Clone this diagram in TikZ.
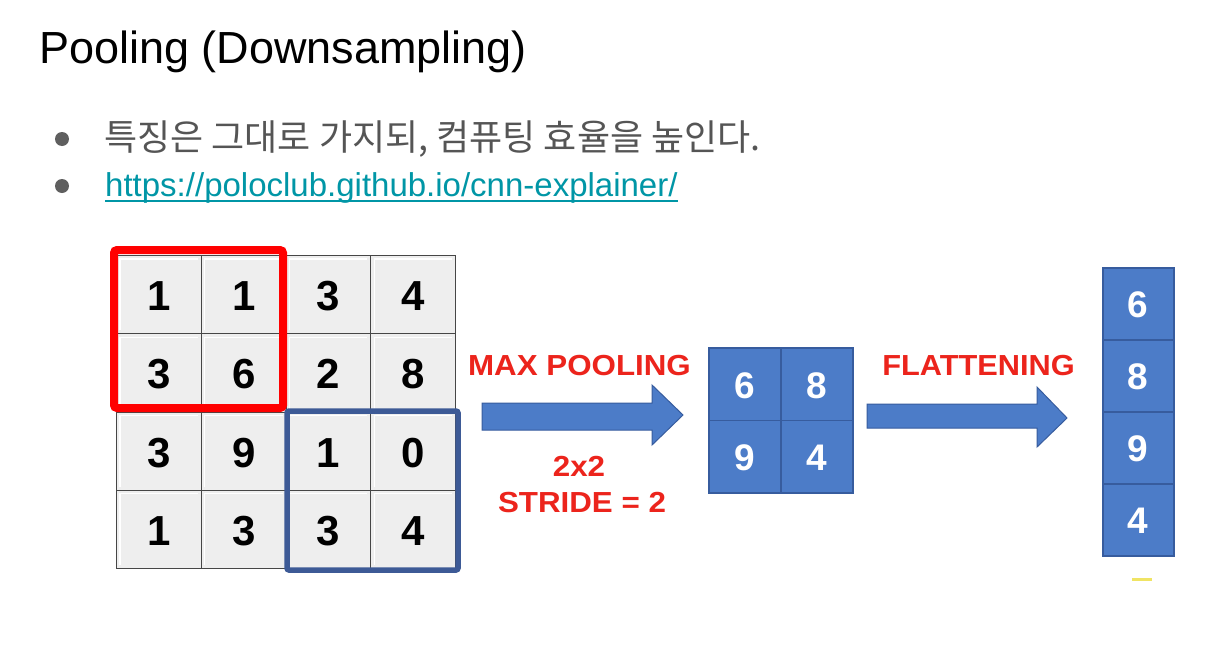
\documentclass[tikz,border=0pt]{standalone}
\usepackage{fontspec}
\setmainfont{Liberation Sans}
\newfontfamily\kr{Noto Sans CJK KR}
\definecolor{redc}{RGB}{236,36,28}
\definecolor{boxred}{RGB}{255,0,0}
\definecolor{bluec}{RGB}{76,124,200}
\definecolor{blueb}{RGB}{55,92,158}
\definecolor{blueframe}{RGB}{61,90,150}
\definecolor{cellc}{RGB}{238,238,238}
\definecolor{gridc}{RGB}{70,70,70}
\definecolor{graytext}{RGB}{85,85,85}
\definecolor{bulletc}{RGB}{95,95,95}
\definecolor{linkc}{RGB}{0,150,166}
\definecolor{yel}{RGB}{240,228,100}
\begin{document}
\begin{tikzpicture}[x=1pt,y=-1pt,
  cellbox/.style={draw=gridc,line width=1.2pt,fill=cellc,minimum width=84.75pt,minimum height=78.25pt,inner sep=0pt,anchor=north west},
  bluebox/.style={draw=blueb,line width=1.5pt,fill=bluec,inner sep=0pt,anchor=north west},
  num/.style={font=\fontsize{42}{44}\selectfont\bfseries,anchor=base,inner sep=0pt},
  wnum/.style={font=\fontsize{37}{40}\selectfont\bfseries,text=white,anchor=base,inner sep=0pt},
  redlabel/.style={font=\fontsize{29}{32}\selectfont\bfseries,text=redc,anchor=base,inner sep=0pt},
  blockarrow/.style={fill=bluec,draw=blueb,line width=1pt,line join=miter}]
\useasboundingbox[fill=white] (0,0) rectangle (1225,653);

% title
\node[anchor=base west,inner sep=0pt,font=\fontsize{45}{50}\selectfont] (title) at (39,63) {Pooling (Downsampling)};

% bullets
\fill[bulletc] (62,139) circle (7);
\fill[bulletc] (62,186) circle (7);
\node[anchor=west,inner sep=0pt,text=graytext,font=\kr\fontsize{36}{40}\selectfont] (b1) at (104,139) {특징은 그대로 가지되, 컴퓨팅 효율을 높인다.};
\node[anchor=base west,inner sep=0pt,text=linkc,font=\fontsize{33}{40}\selectfont] (link) at (105,196) {https://poloclub.github.io/cnn-explainer/};
\draw[linkc,line width=1.6pt] ([yshift=-5pt]link.base west) -- ([yshift=-5pt]link.base east);

% input 4x4 grid
\foreach \r/\row in {0/{1,1,3,4},1/{3,6,2,8},2/{3,9,1,0},3/{1,3,3,4}}{
  \foreach \v [count=\c from 0] in \row {
    \node[cellbox] (c-\r-\c) at ({116+84.75*\c},{255+78.25*\r}) {};
    \draw[white,line width=1.2pt] ([xshift=4pt,yshift=4pt]c-\r-\c.south west) -- ([xshift=4pt,yshift=-4pt]c-\r-\c.north west) -- ([xshift=-4pt,yshift=-4pt]c-\r-\c.north east);
    \node[num] (n-\r-\c) at ([yshift=-16pt]c-\r-\c.center) {\v};
  }
}

% selection frames
\draw[blueframe,line width=5.5pt,rounded corners=2pt] (287,411) rectangle (458,570);
\draw[boxred,line width=8pt,rounded corners=3pt] (114,250) rectangle (283,408);

% arrow 1
\draw[blockarrow] (482,403) -- (652,403) -- (652,385) -- (683,415) -- (652,445) -- (652,430) -- (482,430) -- cycle;
\node[redlabel] (maxp) at (579.5,375) {\scalebox{1.08}[1]{MAX POOLING}};
\node[redlabel] (k22) at (579,476) {\scalebox{1.08}[1]{2x2}};
\node[redlabel] (stride) at (582,512) {\scalebox{1.08}[1]{STRIDE = 2}};

% pooled 2x2
\foreach \r/\row in {0/{6,8},1/{9,4}}{
  \foreach \v [count=\c from 0] in \row {
    \node[bluebox,minimum width=72pt,minimum height=72.5pt] (p-\r-\c) at ({708+72*\c},{347+72.5*\r}) {};
    \node[wnum] (pn-\r-\c) at ([yshift=-14pt]p-\r-\c.center) {\v};
  }
}

% arrow 2
\draw[blockarrow] (867,404) -- (1037,404) -- (1037,387) -- (1067,418) -- (1037,447) -- (1037,428) -- (867,428) -- cycle;
\node[redlabel] (flat) at (978.5,375) {\scalebox{1.06}[1]{FLATTENING}};

% flattened column
\foreach \v [count=\r from 0] in {6,8,9,4}{
  \node[bluebox,minimum width=71pt,minimum height=72pt] (f-\r) at (1102,{267+72*\r}) {};
  \node[wnum] (fn-\r) at ([yshift=-14pt]f-\r.center) {\v};
}

% small yellow mark
\draw[yel,line width=3pt] (1132,579) -- (1152,579);
\end{tikzpicture}
\end{document}
